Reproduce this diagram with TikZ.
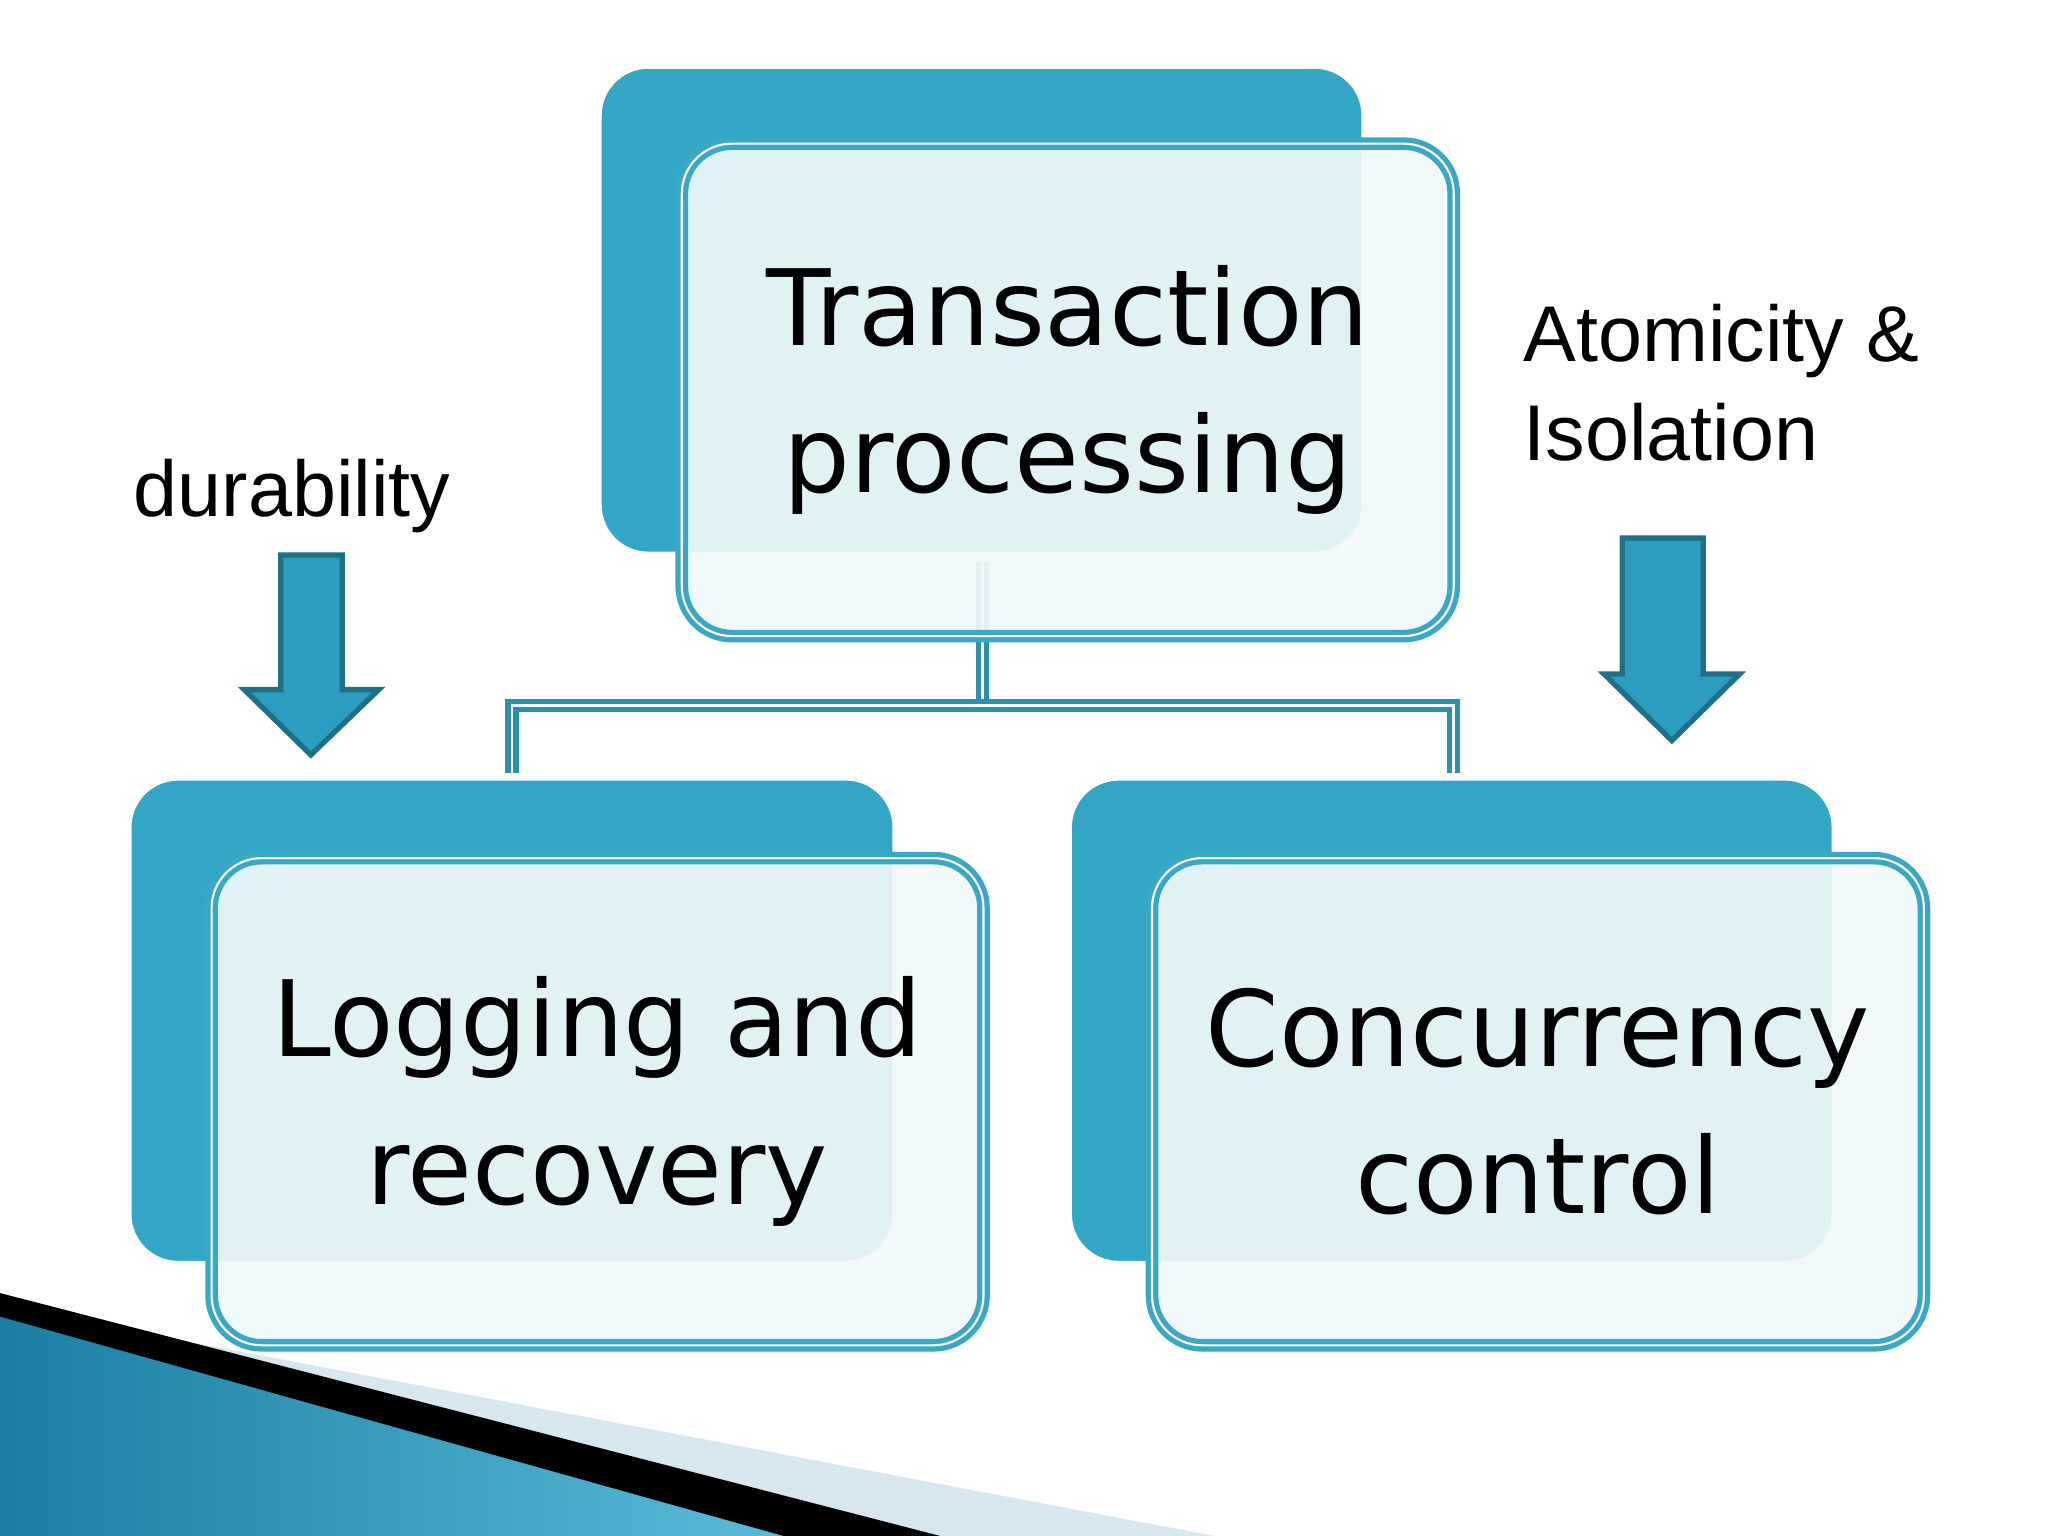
\documentclass[tikz,border=0pt]{standalone}
\usepackage{fontspec}
\setmainfont{DejaVu Sans}
\newfontfamily\lab{Liberation Sans}
\begin{document}
\begin{tikzpicture}[x=0.01306cm,y=-0.01306cm,
  back/.style={fill=bk,draw=white,line width=2pt,rounded corners=0.5cm},
  front/.style={fill=fr,fill opacity=0.92,draw=bd,double=white,double distance=0.6pt,line width=1.5pt,rounded corners=0.5cm,text opacity=1,font=\fontsize{30}{42}\selectfont,align=center,inner sep=0pt},
  conn/.style={draw=cn,double=white,double distance=0.8pt,line width=1.5pt},
  barrow/.style={fill=ar,draw=ard,line width=1.5pt},
  lbl/.style={font=\lab\fontsize{22.5}{28}\selectfont,align=left,inner sep=0pt}]
\definecolor{bk}{HTML}{33A6C6}
\definecolor{fr}{HTML}{F0F9FA}
\definecolor{bd}{HTML}{3AA8C4}
\definecolor{cn}{HTML}{2E8FA8}
\definecolor{ar}{HTML}{2C9DBF}
\definecolor{ard}{HTML}{1F6F86}
\definecolor{g1}{HTML}{1A7FA3}
\definecolor{g2}{HTML}{5ABBD8}
\definecolor{pale}{HTML}{D6E7EF}
\useasboundingbox (0,0) rectangle (1568,1176);
% decoration
\fill[pale] (0,1000) -- (930,1176) -- (0,1176) -- cycle;
\shade[left color=g1,right color=g2] (0,1005) -- (600,1176) -- (0,1176) -- cycle;
\fill[black] (0,990) -- (720,1176) -- (600,1176) -- (0,1008) -- cycle;
% connectors
\coordinate (j) at (752,540);
\coordinate (l) at (392,540);
\coordinate (r) at (1113,540);
\draw[conn] (752,430) -- (j);
\draw[conn] (392,592) -- (l) -- (r) -- (1113,592);
% top
\draw[back] (458,50) rectangle (1045,425);
\node[front,minimum width=591*0.01306cm,minimum height=377*0.01306cm] (tp) at (817.5,298.5) {Transaction\\processing};
% bottom left
\draw[back] (98,595) rectangle (686,968);
\node[front,minimum width=591*0.01306cm,minimum height=373*0.01306cm] (lr) at (457.5,843.5) {Logging and\\recovery};
% bottom right
\draw[back] (818,595) rectangle (1405,968);
\node[front,minimum width=591*0.01306cm,minimum height=373*0.01306cm] (cc) at (1177.5,843.5) {Concurrency\\control};
% arrows
\draw[barrow] (215,425) -- (262,425) -- (262,528) -- (290,528) -- (238,578) -- (187,528) -- (215,528) -- cycle;
\draw[barrow] (1242,412) -- (1304,412) -- (1304,516) -- (1332,516) -- (1280,567) -- (1228,516) -- (1242,516) -- cycle;
% labels
\node[lbl,anchor=west] (du) at (102,380) {durability};
\node[lbl,anchor=west] (ai) at (1166,293) {Atomicity \&\\Isolation};
\end{tikzpicture}
\end{document}
